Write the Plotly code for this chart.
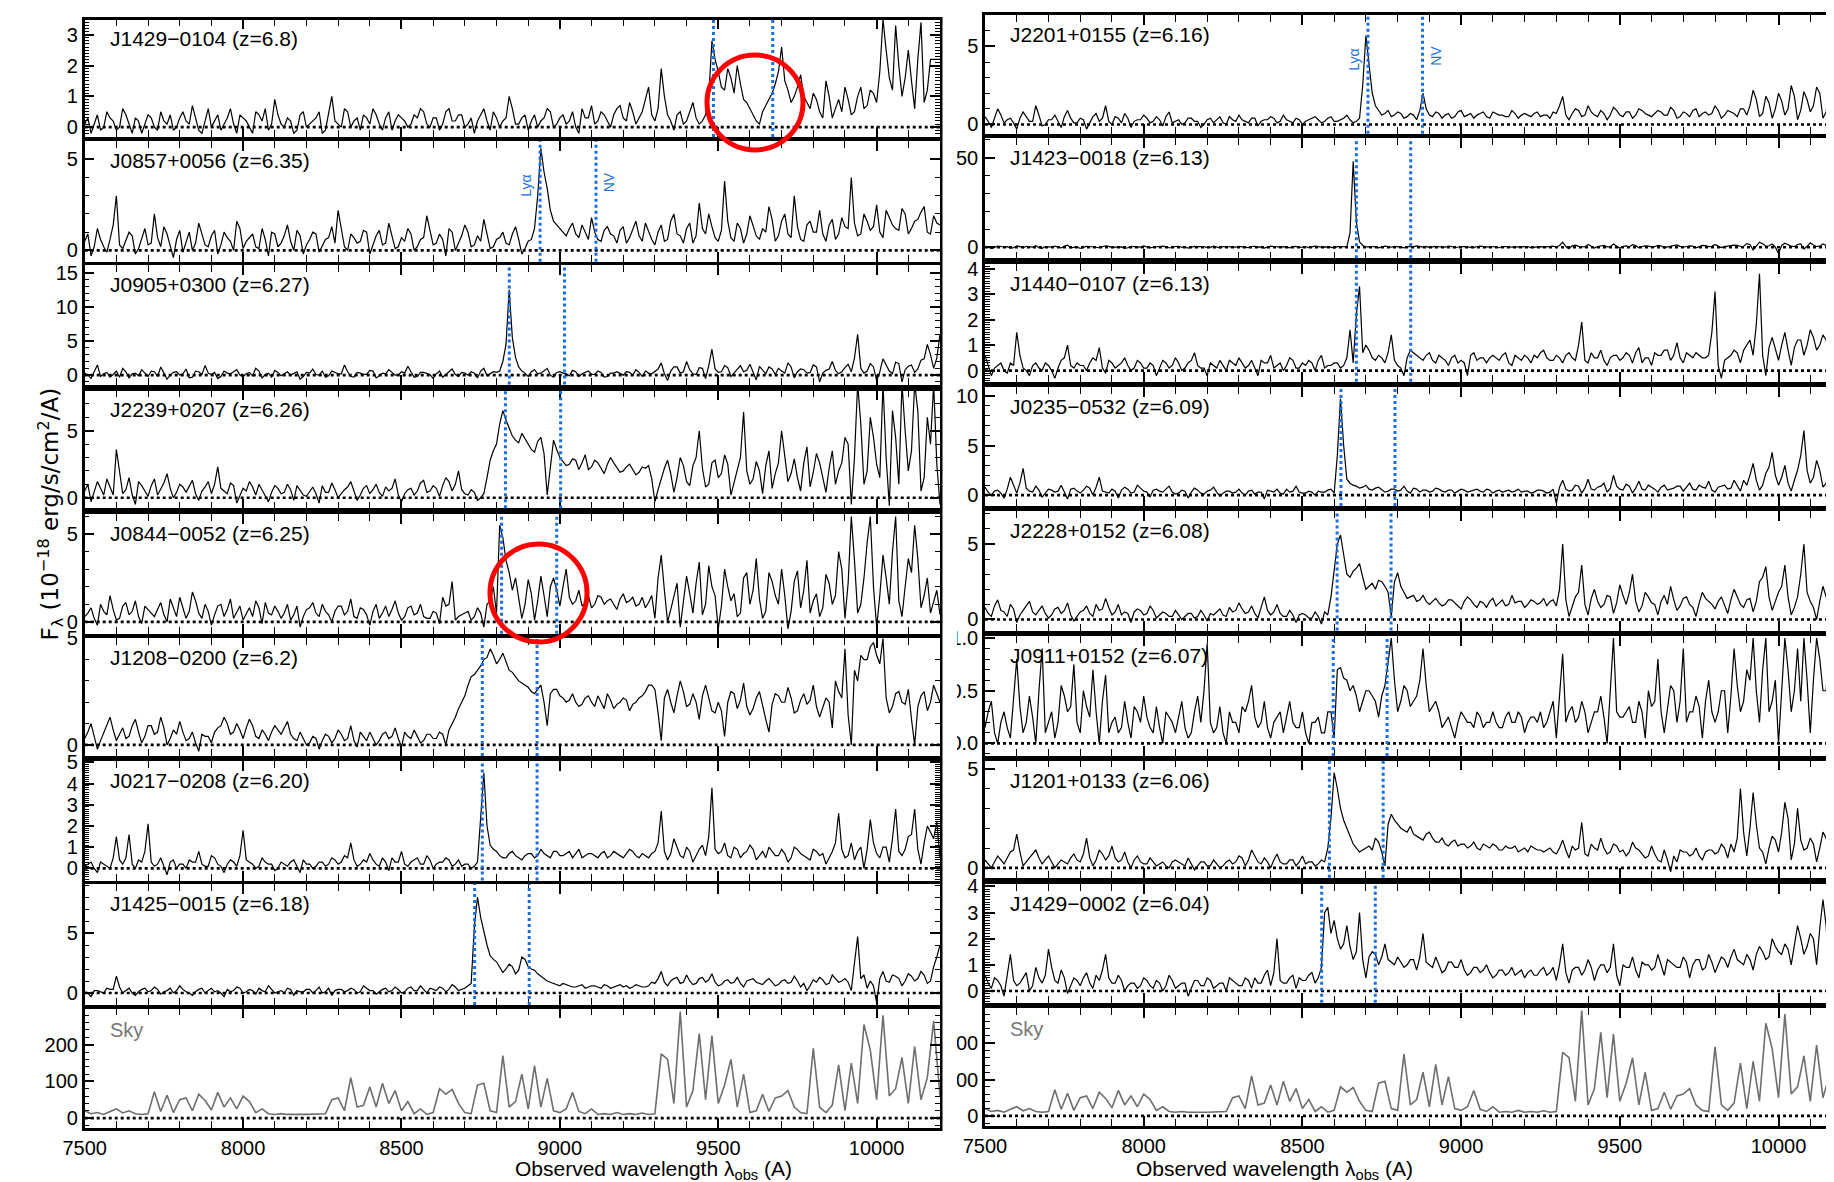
import plotly.graph_objects as go

W, H = 1834, 1182
FONT = "Liberation Sans, Arial, sans-serif"

# sampling grids (Angstrom): main samples at 7500,7520,...; mid samples at 7510,7530,...
wave = list(range(7500, 10201, 10))

names = ["J1429−0104 (z=6.8)", "J0857+0056 (z=6.35)", "J0905+0300 (z=6.27)", "J2239+0207 (z=6.26)",
         "J0844−0052 (z=6.25)", "J1208−0200 (z=6.2)", "J0217−0208 (z=6.20)", "J1425−0015 (z=6.18)",
         "J2201+0155 (z=6.16)", "J1423−0018 (z=6.13)", "J1440−0107 (z=6.13)", "J0235−0532 (z=6.09)",
         "J2228+0152 (z=6.08)", "J0911+0152 (z=6.07)", "J1201+0133 (z=6.06)", "J1429−0002 (z=6.04)"]
redshifts = [6.8, 6.35, 6.27, 6.26, 6.25, 6.2, 6.20, 6.18,
             6.16, 6.13, 6.13, 6.09, 6.08, 6.07, 6.06, 6.04]

# ---- flux values at 7500, 7520, ... 10200 A ----
f_J1429m0104 = [0.1,-0.2,0.4,0.0,0.3,-0.1, 0.6,0.1,0.3,-0.2,0.4, 0.0,0.5,0.1,-0.1,0.3, 0.2,0.7,-0.1,0.2,0.0,
    0.4,0.1,0.6,-0.2,0.3, 0.0,0.5,0.2,-0.1,0.9, 0.1,0.3,-0.2,0.4,0.0, 0.2,0.5,-0.1,1.0,0.1,
    0.6,0.0,0.3,0.4,0.1, 0.4,-0.1,0.5,0.2,0.3, 0.0,0.4,0.6,0.1,0.3, -0.1,0.5,0.2,0.4,0.0,
    0.3,0.2,0.6,-0.1,0.3, 0.2,1.0,0.1,0.3,-0.1, 0.4,0.2,0.6,0.0,0.3, 0.1,0.5,-0.2,0.3,0.7,
    0.2,0.4,0.0,0.6,0.3, 0.8,0.1,0.5,1.3,0.2, 1.9,0.4,-0.1,0.5,0.2, 0.8,0.1,0.4,2.8,1.8,
    1.2,1.6,2.0,0.9,0.6, 0.2,0.5,0.9,1.4,2.6, 1.2,1.0,1.7,0.8,1.1, 0.5,1.5,0.3,0.9,1.3,
    0.4,1.0,0.6,1.2,0.8, 3.5,1.6,3.3,1.0,2.5, 0.6,3.4,1.2,2.2,2.2]
m_J1429m0104 = [0.3,0.1,-0.1,0.5,0.2, 0.0,0.4,-0.2,0.2,0.1, 0.3,-0.1,0.2,0.4,0.0, 0.5,0.1,0.3,-0.2,0.6,
    0.2,-0.1,0.3,0.1,0.4, 0.2,-0.2,0.4,0.6,0.1, 0.4,0.0,0.2,-0.1,0.5, 0.1,0.3,-0.2,0.4,0.2,
    0.0,0.5,0.2,-0.1,0.3, 0.6,0.1,0.3,-0.1,0.4, 0.2,0.1,0.3,0.5,0.0, 0.3,0.1,0.6,0.2,0.4,
    0.1,-0.2,0.4,0.2,0.5, 0.0,0.3,0.6,0.1,0.4, 0.2,0.0,0.3,0.5,0.1, 0.4,0.2,0.0,0.6,0.3,
    0.1,0.5,0.2,0.4,0.7, 0.2,0.5,0.3,0.9,0.4, 0.6,1.0,0.2,0.4,0.1, 0.5,0.3,0.2,1.0,2.2,
    1.3,1.9,1.1,1.4,0.8, 0.4,0.1,0.7,1.1,1.8, 1.5,0.8,1.3,1.0,0.6, 0.9,0.3,1.0,0.6,0.5,
    0.9,0.5,1.3,0.7,1.1, 1.8,2.5,1.2,2.0,1.6, 1.5,2.2,0.8,2.2,2.2]

f_J0857p0056 = [0.5,-0.3,1.2,0.2,0.6,3.0, 0.1,1.0,-0.2,0.7,0.3, 2.0,0.2,0.9,-0.4,1.1, 0.4,0.0,1.5,0.3,0.8,
    -0.2,1.0,0.5,1.6,0.1, 0.7,0.2,1.2,-0.3,0.9, 0.4,1.4,0.0,0.8,0.3, 1.0,-0.1,0.6,1.3,2.2,
    0.2,0.9,0.4,1.1,-0.2, 0.8,0.3,1.5,0.1,0.7, 1.2,0.0,0.6,1.9,0.3, 0.9,-0.3,1.0,0.4,1.4,
    0.2,0.8,1.7,0.1,0.6, 1.0,0.3,1.3,-0.2,0.5, 1.2,5.6,3.4,1.6,1.2, 0.8,1.5,0.7,1.0,1.8,
    0.6,1.1,0.9,0.4,1.3, 0.7,1.6,0.5,1.0,0.3, 1.4,0.6,2.0,0.8,1.2, 0.4,2.6,0.9,1.3,0.5,
    3.8,0.7,1.5,0.4,1.9, 0.8,1.2,2.4,0.5,1.6, 0.9,3.0,0.6,1.4,1.0, 2.2,0.5,1.7,0.9,1.3,
    4.0,0.8,2.0,1.1,2.5, 0.7,1.8,1.2,2.3,0.9, 1.6,2.1,1.0,1.9,1.4]
m_J0857p0056 = [0.9,0.2,0.6,-0.1,1.4, 0.3,0.5,0.8,0.1,1.2, 0.4,0.7,1.3,0.2,0.6, -0.1,1.0,0.4,0.9,0.2,
    1.1,0.3,0.7,0.0,1.2, 0.5,0.9,0.1,0.6,1.0, 0.2,0.8,0.5,1.1,-0.2, 0.6,0.9,0.3,0.7,0.4,
    1.2,0.0,0.7,0.5,1.0, 0.3,1.1,0.4,0.8,0.2, 0.5,0.9,0.2,0.7,1.1, 0.4,0.6,1.2,0.0,0.8,
    1.0,0.3,0.5,0.9,0.2, 0.7,0.4,0.9,0.6,0.1, 0.6,3.0,4.3,2.2,1.4, 1.0,1.2,0.9,1.4,0.6,
    1.0,0.5,1.3,0.8,1.1, 0.4,1.2,0.8,1.5,0.6, 1.0,0.5,1.6,0.9,0.4, 1.5,0.8,1.2,2.0,0.7,
    1.1,1.6,0.5,1.2,0.9, 1.4,0.6,1.0,1.7,0.8, 2.0,0.7,1.3,0.5,1.6, 1.0,0.9,1.4,0.6,1.8,
    1.2,1.5,0.9,1.6,1.3, 1.0,2.2,1.4,1.1,2.0, 1.2,1.7,2.4,0.9,1.5]

f_J0905p0300 = [0.3,-0.5,1.5,0.2,-0.3,0.6, 1.0,-0.4,0.3,0.8,-0.2, 0.5,1.2,-0.6,0.4,0.0, 0.9,-0.3,0.5,1.4,0.1,
    -0.5,0.6,0.2,0.8,-0.2, 0.4,1.0,-0.4,0.3,0.7, -0.1,0.5,0.2,-0.6,0.4, 0.9,0.0,-0.3,0.6,0.2,
    1.5,-0.2,0.4,0.1,0.7, -0.4,0.3,0.8,0.0,0.5, 1.3,-0.3,0.4,0.2,-0.5, 0.6,0.1,0.9,-0.2,0.3,
    0.5,-0.4,1.0,0.2,0.4, 2.0,12.5,2.6,0.6,-0.2, 0.8,0.3,1.0,-0.3,0.5, 0.2,0.7,-0.2,0.4,0.1,
    0.6,-0.3,0.3,0.5,0.0, 0.4,0.8,-0.2,0.3,0.5, 1.8,-0.8,1.2,0.3,2.0, 0.2,1.1,-0.5,3.8,0.4,
    1.4,-0.2,0.9,0.5,1.6, -0.7,0.8,1.2,0.1,0.6, 1.8,-0.4,0.9,0.3,1.5, -1.0,0.7,2.0,0.2,1.1,
    0.5,6.0,0.3,1.7,-0.8, 2.4,0.6,1.9,-1.0,1.3, 0.4,2.2,4.5,1.0,6.0]
m_J0905p0300 = [0.0,0.6,-0.2,0.4,0.1, -0.3,0.5,0.2,-0.1,0.3, 0.6,-0.2,0.3,0.0,0.5, 0.2,-0.4,0.6,0.1,0.3,
    0.4,-0.2,0.3,0.5,0.0, 0.2,-0.1,0.6,0.1,-0.3, 0.4,0.2,0.0,0.5,-0.2, 0.3,0.1,0.6,-0.1,0.4,
    0.2,0.5,-0.3,0.3,0.1, 0.6,-0.1,0.2,0.4,0.0, 0.3,0.5,-0.2,0.4,0.1, 0.2,-0.3,0.5,0.1,0.4,
    0.0,0.3,0.6,-0.1,0.5, 0.6,4.5,5.5,1.2,0.3, 0.5,0.2,0.7,0.0,0.4, 0.3,-0.1,0.5,0.2,0.6,
    0.1,0.4,-0.2,0.3,0.2, 0.5,0.0,0.4,0.6,0.2, 0.9,0.2,0.6,1.2,0.5, 0.8,0.1,1.0,1.4,0.9,
    0.5,1.1,0.3,1.4,0.7, 0.4,1.3,0.2,0.9,1.0, 0.3,1.2,0.5,0.8,0.4, 1.2,0.3,0.9,0.7,0.5,
    1.6,2.5,1.0,0.6,1.2, 0.5,1.4,0.2,1.7,0.8, 1.5,0.9,2.4,3.0,2.5]

f_J2239p0207 = [0.5,-0.3,1.2,0.2,0.8,3.6, 0.3,1.5,-0.5,0.9,0.1, 1.4,0.6,1.8,0.0,1.0, 0.4,1.3,-0.2,0.8,0.3,
    2.3,0.5,1.1,-0.4,0.7, 1.2,0.2,0.6,-0.3,0.9, 0.3,1.0,-0.2,0.5,0.1, 0.8,-0.4,0.4,1.1,0.0,
    0.6,1.2,-0.2,0.7,0.3, 1.0,0.1,0.5,1.4,-0.3, 0.6,0.2,1.1,0.4,0.9, 0.1,1.5,0.5,2.0,0.3,
    0.6,-0.2,0.3,2.8,4.0, 6.5,5.2,4.3,4.8,3.9, 3.4,4.5,0.2,4.3,3.0, 2.4,2.9,2.1,3.2,2.3,
    2.6,1.8,3.0,2.2,2.0, 2.5,1.7,2.3,2.4,-0.3, 1.5,2.8,0.4,3.0,1.2, 2.4,5.0,0.8,2.6,1.5,
    3.2,0.2,2.0,6.4,1.0, 2.7,0.3,3.5,1.8,5.0, 1.2,2.9,0.5,3.8,1.9, 2.6,0.4,3.5,2.0,4.5,
    -0.5,8.5,1.0,6.0,2.5, 8.5,-0.6,4.5,8.5,2.0, 8.5,0.5,6.0,8.5,-0.5]
m_J2239p0207 = [1.0,0.4,0.7,1.4,0.2, 1.8,0.6,0.2,1.2,0.5, 0.9,0.2,1.1,0.7,0.4, 0.8,0.9,0.3,0.5,1.2,
    1.0,0.7,0.3,0.9,0.2, 0.5,0.8,1.0,0.1,0.4, 0.7,0.4,0.6,0.9,0.2, 0.5,0.3,0.9,0.4,0.6,
    0.3,0.8,0.5,0.2,0.9, 0.6,0.4,0.8,0.7,0.2, 0.3,0.7,0.5,1.3,0.5, 0.7,0.9,1.2,1.0,0.6,
    0.2,0.4,0.0,1.5,3.5, 5.5,5.8,4.6,4.1,4.4, 3.6,4.2,3.3,2.5,3.6, 2.7,2.5,2.8,2.6,2.1,
    2.8,2.2,2.5,2.6,1.9, 2.3,2.1,1.9,2.2,1.4, 0.6,2.2,1.8,1.5,2.4, 0.9,3.0,2.2,1.0,2.8,
    1.8,2.5,1.2,3.0,2.0, 1.4,2.0,2.4,0.7,2.6, 3.0,1.8,1.5,2.6,0.8, 3.3,1.5,2.2,1.0,2.6,
    4.0,3.0,5.5,2.0,4.5, 1.5,3.0,6.5,1.0,5.0, 3.5,6.5,1.5,4.0,2.5]

f_J0844m0052 = [0.3,0.8,-0.2,0.6,1.5,0.1, 0.9,0.4,1.2,-0.1,0.7, 0.3,1.1,0.0,0.8,1.4, 0.2,1.7,0.5,1.0,-0.2,
    0.9,0.3,1.3,0.6,0.1, 0.8,1.2,-0.1,0.5,0.9, 0.2,1.0,0.4,-0.3,0.7, 1.1,0.3,0.6,0.0,0.9,
    0.4,1.3,0.2,0.7,-0.2, 1.0,0.5,0.3,1.2,0.1, 0.8,0.4,1.0,0.2,0.6, -0.1,0.9,2.3,0.3,0.5,
    0.1,0.8,-0.3,1.2,0.5, 4.8,2.8,2.5,0.2,2.4, 0.1,2.6,0.3,2.5,0.9, 3.0,1.0,1.8,1.1,0.8,
    1.5,1.0,1.3,0.7,1.6, 1.2,0.9,1.4,1.1,0.2, 3.8,0.0,1.5,-0.3,2.6, 0.5,3.4,1.0,2.0,-0.4,
    3.0,1.2,0.3,2.5,1.0, 3.6,0.2,2.8,1.5,3.0, -0.4,2.3,0.8,3.5,1.2, 0.3,2.7,1.0,4.0,0.2,
    6.0,0.5,2.5,6.0,-0.3, 3.8,1.0,6.0,0.3,3.6, 5.5,0.8,2.5,1.2,0.4]
m_J0844m0052 = [0.5,0.2,1.0,0.4,0.7, 0.2,1.1,0.6,0.3,0.9, 0.5,0.7,0.4,1.3,0.3, 0.8,0.6,1.2,0.2,0.6,
    0.4,1.0,0.7,0.2,0.9, 0.5,0.3,0.8,1.1,0.4, 0.6,0.5,0.1,0.9,0.3, 0.8,0.5,1.0,0.4,0.6,
    0.9,0.6,0.3,0.8,0.4, 0.6,0.2,0.9,0.7,0.5, 0.3,0.9,0.5,0.3,0.2, 0.5,1.4,1.0,0.1,0.4,
    0.6,0.3,0.5,1.0,2.0, 5.5,3.5,1.8,1.4,1.0, 1.6,1.2,1.5,2.0,1.8, 2.0,1.4,1.2,0.9,1.5,
    1.0,1.4,1.2,1.0,1.3, 1.1,1.4,1.0,0.8,1.5, 2.5,1.8,0.7,2.2,1.0, 1.6,2.2,0.4,3.2,1.5,
    0.9,2.0,1.6,0.5,2.8, 1.8,1.3,0.6,2.3,1.0, 1.5,0.6,2.9,1.8,0.5, 1.6,0.8,2.2,1.5,3.0,
    2.2,3.5,1.0,4.5,2.0, 1.5,2.5,4.0,1.2,2.0, 2.8,3.6,1.5,0.5,1.8]

f_J1208m0200 = [0.3,1.0,-0.2,0.6,1.3,0.2, 0.8,0.4,1.2,0.1,0.9, 0.5,1.3,0.0,0.7,1.1, 0.2,0.6,-0.3,0.4,0.1,
    0.8,1.3,0.5,1.0,0.3, 1.2,0.4,0.7,0.2,0.9, 0.5,1.1,0.3,0.6,0.0, 0.4,-0.2,0.5,0.1,0.7,
    0.2,0.9,-0.1,0.4,0.6, 0.0,0.5,0.3,0.8,-0.1, 0.4,0.7,0.1,0.5,0.3, 0.6,0.0,1.0,1.7,2.3,
    3.2,3.5,4.0,4.5,3.8, 4.3,3.5,3.2,2.9,2.7, 2.4,2.8,0.9,2.6,2.3, 2.0,2.4,1.8,2.2,2.0,
    2.3,1.7,2.1,1.9,2.2, 1.6,2.0,2.3,2.8,2.6, 0.2,2.6,1.5,3.0,1.8, 2.4,1.2,2.8,1.6,2.0,
    0.4,2.5,1.7,2.9,1.4, 2.2,1.8,0.6,2.4,2.0, 2.7,1.5,2.1,1.9,2.8, 1.3,2.2,0.8,2.5,4.5,
    0.0,3.0,4.0,4.6,4.2, 5.0,1.5,2.4,2.0,2.6, 0.0,2.3,1.6,2.8,2.0]
m_J1208m0200 = [0.6,0.4,0.2,1.0,0.7, 0.5,0.3,0.9,0.6,0.4, 0.9,0.6,0.8,0.3,0.5, 0.6,0.3,0.1,0.5,0.4,
    0.6,0.9,1.0,0.6,0.7, 0.8,0.9,0.3,0.5,0.6, 0.7,0.8,0.5,0.2,0.3, 0.1,0.3,0.2,0.4,0.3,
    0.5,0.3,0.2,0.6,0.2, 0.3,0.2,0.6,0.4,0.3, 0.6,0.3,0.4,0.2,0.5, 0.3,0.5,0.7,1.3,2.0,
    2.8,3.3,3.7,4.1,4.2, 4.0,3.9,3.4,3.0,2.8, 2.5,2.6,2.0,2.4,2.6, 2.2,2.1,2.0,1.9,2.3,
    1.8,2.0,2.4,1.7,2.0, 2.1,1.9,2.2,2.5,2.8, 1.5,2.2,2.0,2.3,2.5, 1.9,2.0,2.3,2.2,1.5,
    1.6,2.0,2.4,2.1,1.8, 1.7,2.5,1.2,1.9,2.3, 2.0,2.2,1.6,2.4,2.1, 1.8,1.7,2.0,3.0,2.2,
    1.4,3.5,4.2,4.0,4.8, 3.8,2.2,1.8,2.5,1.9, 1.2,1.8,2.5,2.0,2.4]

f_J0217m0208 = [0.1,0.3,-0.2,0.2,0.0,1.5, 0.2,1.6,0.0,0.3,2.1, 0.1,0.5,-0.3,0.4,0.2, 0.0,0.3,0.8,0.1,0.6,
    0.2,-0.2,0.4,0.1,1.8, 0.3,0.0,0.5,0.2,-0.1, 0.3,0.1,0.4,-0.2,0.2, 0.0,0.3,0.1,0.5,0.2,
    0.6,1.2,0.1,0.4,0.7, 0.2,0.5,-0.1,0.3,0.8, 0.1,0.4,0.2,0.6,0.0, 0.3,0.5,0.1,0.4,0.2,
    0.0,0.3,4.5,1.1,0.8, 0.5,0.7,0.6,0.4,0.7, 0.5,0.9,0.6,0.8,0.6, 0.7,0.5,0.9,0.6,0.7,
    0.5,0.8,0.6,0.7,0.5, 0.9,0.6,0.7,0.5,0.8, 2.7,0.4,1.4,0.6,1.0, 0.3,0.9,0.6,3.8,0.7,
    1.2,0.5,0.9,0.7,1.1, 0.4,0.8,1.0,0.6,0.9, 0.3,1.0,0.7,0.5,0.9, 0.6,0.2,0.8,2.6,0.5,
    1.2,0.8,0.0,2.3,0.7, 1.0,0.3,2.8,0.6,1.5, 2.8,0.2,2.0,1.4,0.5]
m_J0217m0208 = [0.2,0.0,0.3,0.1,0.5, 0.4,0.5,0.2,0.4,0.8, 0.3,0.2,0.1,0.3,0.0, 0.2,0.4,0.3,0.2,0.1,
    0.5,0.1,0.2,0.3,0.6, 0.4,0.2,0.1,0.3,0.2, 0.0,0.2,0.3,0.1,0.4, 0.2,0.1,0.3,0.2,0.4,
    0.3,0.5,0.4,0.2,0.3, 0.4,0.1,0.3,0.5,0.3, 0.2,0.3,0.5,0.2,0.4, 0.2,0.3,0.4,0.2,0.1,
    0.2,0.1,2.5,2.0,0.9, 0.6,0.5,0.8,0.5,0.6, 0.7,0.6,0.7,0.5,0.8, 0.6,0.8,0.7,0.5,0.7,
    0.6,0.7,0.5,0.8,0.6, 0.7,0.8,0.5,0.6,0.7, 1.2,0.8,0.7,1.0,0.5, 0.8,0.6,1.1,1.5,0.9,
    0.8,0.6,1.0,0.5,0.8, 0.9,0.6,0.5,0.8,0.6, 0.7,0.5,0.9,0.6,0.4, 0.8,0.7,0.5,1.2,0.9,
    0.6,0.4,1.0,0.9,1.2, 0.5,1.0,1.4,0.8,0.9, 1.6,0.9,1.2,1.7,2.2]

f_J1425m0015 = [0.1,-0.3,0.2,0.0,0.3,1.4, 0.0,0.4,-0.2,0.3,0.1, 0.5,-0.1,0.2,0.0,0.6, 0.1,-0.2,0.3,0.0,0.4,
    0.2,-0.3,0.1,0.5,0.0, 0.3,-0.1,0.2,0.6,0.0, 0.2,0.4,-0.2,0.1,0.3, 0.0,0.5,0.1,-0.2,0.3,
    0.1,0.4,0.0,0.6,0.2, -0.1,0.3,0.1,0.5,0.0, 0.4,0.2,0.6,0.0,0.3, 0.5,0.1,0.7,0.2,0.4,
    0.8,8.0,5.0,3.1,2.6, 1.7,2.4,1.6,3.0,2.2, 1.9,1.4,1.0,0.8,0.6, 0.7,0.5,0.6,0.4,0.6,
    0.5,0.7,0.4,0.6,0.5, 0.4,0.7,0.5,0.6,0.8, 1.8,0.6,1.2,0.8,1.5, 0.7,1.2,0.9,1.6,0.6,
    1.0,0.8,1.3,0.5,1.1, 0.9,0.7,1.2,0.6,1.0, 0.8,1.4,0.5,0.2,1.1, 1.3,0.7,1.5,0.9,1.2,
    0.2,4.7,1.5,1.0,-0.8, 1.8,0.9,1.4,0.6,1.6, 1.0,1.8,0.8,2.2,4.0]
m_J1425m0015 = [0.0,0.2,0.1,0.4,0.3, 0.5,0.2,0.0,0.1,0.4, 0.2,0.3,0.1,0.4,0.2, 0.3,0.0,0.1,0.4,0.2,
    0.1,0.0,0.3,0.2,0.4, 0.1,0.2,0.4,0.1,0.3, 0.1,0.0,0.3,0.2,0.1, 0.3,0.2,0.0,0.4,0.2,
    0.3,0.2,0.3,0.1,0.4, 0.2,0.1,0.4,0.2,0.3, 0.1,0.5,0.2,0.3,0.4, 0.2,0.4,0.3,0.5,0.3,
    0.6,5.5,6.3,4.0,2.8, 2.2,2.0,2.2,1.9,2.8, 2.0,1.6,1.2,0.9,0.7, 0.8,0.6,0.5,0.7,0.5,
    0.6,0.4,0.6,0.5,0.7, 0.6,0.5,0.6,0.5,0.9, 1.2,0.9,1.0,1.3,0.9, 1.0,0.8,1.3,1.1,0.9,
    0.7,1.1,0.9,0.8,1.0, 1.2,0.8,1.0,0.9,0.7, 1.1,0.9,1.0,0.8,0.6, 0.9,1.1,0.8,1.2,1.0,
    0.9,2.5,1.2,0.4,0.6, 1.2,1.0,1.5,1.2,1.0, 1.4,1.2,1.5,1.0,3.0]

f_J2201p0155 = [0.5,-0.2,1.0,0.1,0.4,-0.3, 0.8,0.2,1.2,-0.1,0.3, 0.6,-0.2,0.9,0.1,0.4, -0.3,0.5,0.2,1.2,0.0,
    0.4,0.7,-0.2,0.3,0.6, 0.1,0.5,-0.1,0.8,0.2, 0.0,0.4,0.2,-0.2,0.3, 0.1,0.5,0.0,0.3,0.6,
    0.2,0.4,-0.1,0.3,0.5, 0.1,0.6,0.2,0.4,0.0, 0.3,0.5,0.1,0.4,0.2, 0.3,0.6,0.1,0.4,5.7,
    2.0,0.9,0.7,0.5,0.8, 0.4,0.7,0.3,2.0,0.6, 0.8,0.4,0.7,0.5,0.9, 0.6,0.4,0.7,0.5,0.8,
    0.6,0.5,0.9,0.4,0.7, 0.5,0.8,0.6,0.4,0.7, 1.8,0.3,1.0,0.5,1.2, 0.6,0.9,0.3,1.1,0.6,
    0.8,0.4,1.0,0.7,0.5, 0.9,0.6,1.1,0.4,0.8, 0.5,1.0,0.7,0.6,1.2, 0.4,0.9,0.7,1.0,0.6,
    2.2,0.5,1.8,0.4,2.0, 0.6,2.5,0.3,2.1,0.8, 2.4,0.4,2.6,0.9,3.2]
m_J2201p0155 = [0.2,0.4,0.6,0.3,0.1, 0.4,0.5,0.2,0.6,0.0, 0.3,0.2,0.5,0.4,0.1, 0.3,0.1,0.7,0.4,0.2,
    0.5,0.1,0.4,0.2,0.3, 0.4,0.2,0.3,0.5,0.1, 0.3,0.1,0.4,0.2,0.0, 0.4,0.3,0.1,0.5,0.2,
    0.3,0.1,0.4,0.2,0.3, 0.4,0.2,0.3,0.1,0.3, 0.2,0.4,0.3,0.2,0.5, 0.2,0.4,0.3,0.2,2.5,
    4.0,1.2,0.6,0.9,0.6, 0.7,0.5,0.6,0.9,1.0, 0.5,0.7,0.6,0.4,0.8, 0.5,0.7,0.6,0.8,0.4,
    0.7,0.6,0.5,0.7,0.6, 0.6,0.7,0.5,0.6,0.8, 1.2,0.6,0.7,0.9,0.6, 0.8,0.5,0.7,0.6,0.9,
    0.5,0.8,0.6,0.9,0.6, 0.7,0.8,0.6,0.9,0.5, 0.7,0.9,0.5,0.8,0.7, 0.9,0.6,0.8,0.5,1.0,
    1.2,1.6,0.7,1.4,1.0, 1.5,1.0,1.8,0.9,1.6, 1.2,2.0,0.8,2.2,1.6]

f_J1423m0018 = [0.5,-0.8,0.6,0.0,-0.5,0.7, -0.3,0.4,0.9,-0.6,0.2, 0.6,-0.4,1.2,0.0,-0.7, 0.5,0.1,-0.3,0.8,-0.2,
    0.3,-0.6,0.5,0.0,0.7, -0.4,0.2,0.6,-0.3,0.4, 0.0,-0.5,0.5,0.2,-0.2, 0.6,-0.4,0.3,0.0,0.5,
    -0.3,0.4,0.1,-0.5,0.6, 0.0,0.3,-0.4,0.5,0.1, -0.2,0.6,0.0,0.3,-0.5, 0.4,0.2,48.0,3.0,0.2,
    0.5,-0.3,0.6,0.0,0.4, -0.4,0.3,0.7,0.1,-0.2, 0.5,0.0,0.6,-0.3,0.4, 0.2,-0.2,0.6,0.1,0.4,
    -0.3,0.5,0.0,0.3,0.6, -0.2,0.4,0.1,0.5,0.0, 2.8,-0.8,1.2,0.3,1.5, -0.5,0.9,0.2,1.8,-0.6,
    0.7,1.4,-0.3,0.8,0.2, 1.1,-0.5,0.6,1.3,0.0, 0.8,-0.4,1.0,0.3,1.5, -0.2,0.7,1.2,0.4,2.0,
    -1.5,2.8,0.5,1.8,-3.5, 2.2,0.6,1.5,-1.0,2.5, 0.4,1.8,-0.6,2.3,1.0]
m_J1423m0018 = [0.2,-0.3,0.4,0.3,-0.2, 0.3,0.5,0.1,-0.2,0.4, 0.0,0.3,0.6,-0.3,0.2, 0.1,0.4,-0.2,0.3,0.5,
    0.0,0.2,-0.3,0.4,0.1, 0.3,0.0,0.4,0.2,-0.2, 0.5,0.1,0.0,0.3,0.4, -0.1,0.2,0.4,0.1,0.0,
    0.3,-0.2,0.5,0.2,0.1, 0.4,0.0,0.2,0.3,-0.1, 0.4,0.1,0.3,0.2,0.0, 0.3,0.5,8.0,14.0,1.0,
    0.2,0.4,0.0,0.3,0.5, 0.1,0.4,0.2,0.3,0.5, 0.2,0.3,0.1,0.4,0.2, 0.3,0.1,0.4,0.3,0.0,
    0.2,0.4,0.3,0.1,0.2, 0.4,0.1,0.3,0.2,0.6, 1.0,0.4,0.8,0.5,0.2, 0.6,0.4,1.0,0.3,0.7,
    0.5,0.2,0.9,0.4,0.6, 0.3,0.8,0.2,0.7,0.5, 0.4,0.6,0.3,0.9,0.5, 0.6,0.3,0.8,1.0,0.4,
    1.5,0.6,2.0,0.8,0.0, 1.0,1.4,0.3,1.8,0.5, 1.2,0.6,1.0,1.5,0.8]

f_J1440m0107 = [0.6,-0.2,0.2,0.0,0.3,1.5, 0.1,-0.2,0.3,0.0,0.2, -0.3,0.4,1.0,0.1,0.2, 0.0,0.5,0.9,-0.1,0.3,
    0.2,0.5,0.0,0.4,0.1, 0.3,-0.2,0.4,0.1,0.5, 0.0,0.3,0.7,0.1,-0.2, 0.2,0.4,0.0,0.3,0.5,
    0.1,0.4,-0.2,0.3,0.6, 0.2,0.0,0.5,0.1,0.3, 0.4,0.0,0.6,0.2,0.3, 0.1,0.5,0.3,3.3,1.0,
    0.5,0.6,0.3,1.4,0.2, -0.2,0.8,0.6,0.4,0.7, 0.3,0.5,0.2,0.6,0.4, -0.2,0.7,0.5,0.3,0.6,
    0.4,0.7,0.2,0.5,0.6, 0.3,0.5,0.8,0.4,0.6, 0.3,0.7,0.4,1.9,0.3, 0.5,0.8,0.2,0.6,0.4,
    0.7,0.3,0.9,0.5,0.2, 0.6,0.8,0.4,1.1,0.3, 0.6,0.7,0.5,0.6,3.1, -0.3,0.5,0.8,0.3,1.0,
    0.6,3.8,-0.2,1.3,0.4, 1.5,0.2,1.2,0.6,1.6, 0.8,1.4,0.5,1.5,2.0]
m_J1440m0107 = [0.2,0.1,0.3,-0.1,0.2, 0.6,0.0,0.2,0.1,0.3, 0.0,0.1,0.5,0.2,0.3, 0.2,0.3,0.4,0.1,0.4,
    0.1,0.3,0.2,0.1,0.3, 0.1,0.2,0.1,0.3,0.2, 0.3,0.1,0.4,0.2,0.1, 0.3,0.1,0.2,0.4,0.2,
    0.3,0.2,0.1,0.4,0.3, 0.1,0.3,0.2,0.4,0.1, 0.2,0.3,0.4,0.1,0.2, 0.3,0.2,1.6,2.2,0.7,
    0.8,0.4,0.5,0.7,0.4, 0.1,0.5,0.7,0.5,0.6, 0.4,0.6,0.4,0.5,0.3, 0.3,0.6,0.4,0.5,0.5,
    0.5,0.6,0.3,0.6,0.4, 0.5,0.6,0.7,0.5,0.4, 0.5,0.6,0.5,1.0,0.4, 0.7,0.5,0.4,0.5,0.6,
    0.5,0.6,0.7,0.3,0.5, 0.7,0.6,0.8,0.6,0.5, 0.7,0.5,0.6,0.5,1.5, 0.2,0.4,0.6,0.7,0.8,
    1.2,1.8,0.6,0.9,0.8, 1.0,0.8,0.9,1.2,1.0, 1.3,1.0,1.2,1.7,1.9]

f_J0235m0532 = [0.8,0.0,0.5,-0.3,1.8,0.2, 2.7,0.4,0.9,-0.2,0.6, 0.3,1.0,-0.4,0.7,0.2, 0.9,0.0,1.8,0.3,0.6,
    -0.3,0.8,0.2,1.0,0.4, -0.2,0.6,0.3,0.9,0.1, 0.5,-0.3,0.7,0.2,0.4, 0.8,-0.1,0.4,0.2,0.6,
    0.0,0.5,0.3,-0.4,0.4, 0.6,0.1,0.3,0.9,0.2, 0.4,0.0,0.3,0.5,0.2, 9.7,1.6,1.0,0.7,1.0,
    0.5,0.8,0.3,0.6,0.4, 0.9,0.2,0.6,0.5,0.3, 0.7,0.4,0.5,0.2,0.6, 0.3,0.5,0.4,0.6,0.2,
    0.5,0.4,0.3,0.6,0.4, 0.2,0.5,0.4,0.3,-0.8, 1.5,0.4,1.0,0.2,1.6, 0.5,0.9,0.3,2.0,0.6,
    1.1,0.2,1.4,0.5,0.8, 0.3,1.0,0.6,0.9,0.4, 1.2,0.5,0.8,1.4,0.3, 0.9,0.6,1.5,0.4,1.0,
    3.2,0.5,2.2,4.3,1.0, 3.0,0.4,2.5,6.5,1.2, 3.5,0.8,2.4,1.0,2.0]
m_J0235m0532 = [0.3,0.4,0.2,0.6,0.9, 1.2,0.7,0.3,0.5,0.2, 0.5,0.4,0.3,0.6,0.4, 0.5,0.7,0.8,0.4,0.2,
    0.4,0.5,0.6,0.3,0.7, 0.3,0.5,0.4,0.6,0.3, 0.2,0.4,0.3,0.5,0.1, 0.5,0.3,0.2,0.4,0.3,
    0.2,0.4,0.1,0.3,0.5, 0.3,0.2,0.6,0.4,0.3, 0.2,0.3,0.4,0.3,0.6, 4.0,5.0,1.2,0.9,0.8,
    0.6,0.7,0.5,0.4,0.6, 0.5,0.4,0.7,0.3,0.5, 0.4,0.6,0.3,0.5,0.4, 0.5,0.4,0.6,0.3,0.5,
    0.4,0.3,0.5,0.4,0.3, 0.4,0.3,0.5,0.2,0.6, 0.8,0.6,0.5,0.9,0.7, 0.6,0.8,1.2,0.7,0.9,
    0.5,0.9,0.7,0.6,1.0, 0.6,0.8,0.5,0.7,0.9, 0.8,0.6,1.0,0.7,0.5, 0.8,1.0,0.7,0.9,1.5,
    2.0,1.5,1.0,2.8,2.0, 1.8,1.2,1.5,4.0,2.5, 1.8,2.5,1.2,1.6,1.4]

f_J2228p0152 = [0.8,0.2,1.3,0.5,1.0,-0.2, 0.6,1.2,0.3,0.9,0.1, 0.7,0.4,1.1,-0.1,0.5, 0.9,0.2,0.6,1.4,0.3,
    1.0,0.5,-0.2,0.7,0.3, 0.9,0.1,0.5,0.2,0.6, 0.0,0.4,0.1,0.6,-0.1, 0.3,0.7,0.2,0.5,1.1,
    0.4,0.9,0.1,1.5,0.3, 1.0,0.2,0.6,-0.2,0.4, 0.1,0.5,-0.3,0.3,3.4, 5.6,3.0,3.2,3.7,2.0,
    2.4,2.6,2.2,0.2,3.1, 1.8,1.5,1.2,1.6,1.0, 1.4,0.9,1.3,1.1,0.7, 1.5,1.0,1.2,0.8,1.4,
    1.1,0.9,1.6,1.2,0.8, 1.3,1.0,1.4,1.2,0.9, 5.0,0.2,1.5,3.6,0.3, 2.0,0.8,1.6,0.4,2.3,
    1.0,3.0,0.5,1.8,1.1, 0.3,1.6,2.2,0.6,1.4, 1.0,0.2,1.8,1.2,0.7, 1.5,0.4,2.0,1.0,1.3,
    0.5,2.5,3.5,0.6,1.8, 3.6,0.3,1.5,5.0,1.2, 0.0,2.2,0.6,1.4,0.4]
m_J2228p0152 = [0.4,0.9,0.6,0.2,0.7, 0.3,0.9,0.5,0.6,0.4, 0.3,0.8,0.6,0.3,0.2, 0.6,0.4,1.0,0.7,0.8,
    0.5,0.3,0.4,0.5,0.6, 0.4,0.6,0.3,0.4,0.2, 0.3,0.2,0.4,0.2,0.3, 0.4,0.5,0.3,0.8,0.6,
    0.7,0.5,0.4,0.8,0.6, 0.5,0.4,0.2,0.3,0.3, 0.3,0.1,0.2,0.5,1.5, 5.0,4.2,2.8,3.4,2.8,
    2.2,2.0,2.5,1.8,2.5, 2.2,1.4,1.6,1.3,1.2, 1.2,1.1,1.0,1.3,0.9, 1.2,1.3,0.8,1.1,1.2,
    0.9,1.3,1.0,1.1,1.2, 1.0,1.2,1.1,0.9,1.3, 2.0,1.3,0.8,1.8,1.0, 1.4,1.2,1.0,1.5,1.1,
    1.6,1.8,1.2,0.9,1.5, 1.0,1.2,1.0,1.3,0.9, 1.5,0.8,1.1,1.4,1.0, 1.2,1.0,1.3,1.5,0.8,
    1.4,1.2,2.8,1.5,1.2, 2.2,1.5,0.8,3.0,1.8, 0.8,1.2,1.5,0.9,0.7]

f_J0911p0152 = [0.15,0.4,0.0,0.3,0.05,0.8, 0.1,0.45,0.0,0.9,0.2, 0.05,0.55,0.3,0.75,0.1, 0.35,0.7,0.0,0.65,0.2,
    0.1,0.4,0.05,0.3,0.45, 0.15,0.35,0.0,0.25,0.1, 0.4,0.05,0.3,0.2,0.95, 0.1,0.35,0.0,0.2,0.1,
    0.3,0.55,0.15,0.4,0.05, 0.25,0.1,0.4,0.15,0.3, 0.0,0.2,0.1,0.3,0.05, 0.72,0.6,0.55,0.3,0.5,
    0.45,0.25,0.55,1.0,0.3, 0.55,0.35,0.45,0.9,0.3, 0.4,0.15,0.25,0.05,0.3, 0.2,0.15,0.25,0.2,0.3,
    0.15,0.25,0.2,0.3,0.1, 0.25,0.2,0.15,0.3,0.05, 0.85,0.3,0.2,0.4,0.1, 0.3,0.45,0.0,1.0,0.25,
    0.3,0.2,0.4,0.05,0.35, 0.8,0.1,0.55,0.2,0.9, 0.3,0.45,0.05,0.6,0.2, 0.5,0.1,0.9,0.3,0.7,
    1.0,0.2,1.0,0.4,0.0, 1.0,0.3,0.9,1.0,0.1, 1.0,0.5,1.0,0.2,1.0]
m_J0911p0152 = [0.3,0.1,0.2,0.15,0.4, 0.35,0.2,0.25,0.5,0.1, 0.3,0.2,0.45,0.35,0.2, 0.5,0.25,0.3,0.4,0.1,
    0.25,0.15,0.2,0.35,0.2, 0.25,0.1,0.15,0.3,0.2, 0.25,0.15,0.1,0.45,0.5, 0.2,0.15,0.1,0.3,0.2,
    0.35,0.4,0.25,0.2,0.15, 0.2,0.3,0.25,0.2,0.15, 0.1,0.2,0.25,0.1,0.3, 0.7,0.62,0.5,0.45,0.4,
    0.5,0.4,0.45,0.8,0.6, 0.4,0.5,0.4,0.6,0.55, 0.35,0.3,0.2,0.15,0.2, 0.25,0.2,0.3,0.15,0.2,
    0.2,0.15,0.3,0.2,0.25, 0.2,0.25,0.3,0.2,0.4, 0.5,0.2,0.35,0.25,0.3, 0.2,0.3,0.25,0.5,0.3,
    0.25,0.35,0.2,0.3,0.5, 0.4,0.3,0.35,0.5,0.4, 0.2,0.3,0.35,0.4,0.3, 0.3,0.5,0.45,0.55,0.4,
    0.6,0.5,0.7,0.3,0.6, 0.5,0.7,0.5,0.4,0.6, 0.6,0.8,0.5,0.7,0.6]

f_J1201p0133 = [0.4,0.0,0.6,0.2,0.8,1.7, 0.1,0.5,0.9,0.2,0.6, 0.0,0.4,0.2,0.7,0.3, 1.5,0.1,0.9,0.4,1.1,
    0.3,0.8,0.0,0.6,0.2, 0.5,0.1,0.3,0.0,0.4, 0.2,0.5,-0.1,0.3,0.1, 0.4,0.0,0.3,0.2,0.6,
    0.1,0.9,0.3,0.5,0.0, 0.7,0.2,0.4,0.1,0.6, 0.3,0.1,0.4,1.0,4.8, 3.0,2.0,1.2,0.8,1.0,
    0.9,1.3,0.1,2.7,2.2, 1.9,2.1,1.6,1.4,1.8, 1.3,1.5,1.1,1.4,1.2, 1.0,1.3,0.9,1.1,1.2,
    0.9,1.1,1.0,0.8,1.0, 1.1,0.9,0.8,1.0,0.7, 1.4,0.5,0.9,2.3,0.6, 1.0,1.5,0.7,1.2,0.8,
    0.6,1.3,0.9,0.5,1.1, 0.4,0.9,-0.2,0.3,0.8, 0.6,1.0,0.4,0.9,0.7, 1.2,0.5,0.8,4.0,0.6,
    3.8,1.0,0.2,1.6,0.8, 3.3,0.4,3.0,0.9,1.5, 0.3,1.8,0.7,1.2,2.0]
m_J1201p0133 = [0.2,0.3,0.4,0.5,0.9, 0.8,0.3,0.7,0.5,0.4, 0.3,0.2,0.3,0.5,0.4, 0.7,0.5,0.4,0.7,0.6,
    0.5,0.4,0.3,0.4,0.3, 0.2,0.3,0.2,0.1,0.3, 0.3,0.1,0.2,0.1,0.3, 0.1,0.2,0.1,0.4,0.3,
    0.5,0.4,0.6,0.2,0.3, 0.4,0.3,0.2,0.4,0.3, 0.2,0.3,0.2,0.3,2.5, 4.0,2.4,1.5,1.0,0.9,
    1.1,1.5,0.8,2.2,2.4, 2.0,1.8,1.7,1.5,1.7, 1.5,1.3,1.2,1.3,1.1, 1.2,1.1,1.0,1.2,1.0,
    1.1,0.9,1.0,1.1,0.9, 0.8,1.0,0.9,0.9,0.8, 1.0,0.9,1.1,1.0,0.7, 1.2,0.9,1.0,0.8,1.1,
    0.9,0.8,1.0,0.7,0.6, 0.7,0.3,0.4,0.6,0.9, 0.8,0.7,0.6,0.8,0.9, 0.8,1.0,1.2,1.5,1.8,
    2.0,2.2,0.8,1.0,1.4, 1.8,2.5,1.2,1.4,1.0, 1.2,1.0,1.5,1.3,1.6]

f_J1429m0002 = [0.6,0.1,0.4,-0.2,1.4,0.2, 0.5,0.0,0.9,0.3,1.6, 0.4,0.8,-0.1,0.5,0.2, 0.7,0.1,0.4,1.4,0.3,
    0.6,0.0,0.3,0.1,0.5, 0.2,0.4,0.0,0.6,0.1, 0.3,-0.2,0.4,0.2,0.5, 0.1,0.3,0.0,0.4,0.2,
    0.5,0.1,0.3,0.6,0.2, 2.0,0.3,0.5,0.1,0.4, 0.6,0.3,0.9,3.2,2.7, 1.6,2.5,1.2,3.0,0.5,
    1.5,1.0,1.8,1.1,1.3, 0.9,1.2,0.8,2.2,1.0, 1.3,0.7,1.1,0.9,1.2, 0.6,0.9,0.7,1.0,0.5,
    0.8,0.6,0.9,0.7,0.5, 0.8,0.6,0.9,0.7,0.4, 1.8,0.3,0.9,0.6,1.2, 0.4,1.0,0.7,1.8,0.2,
    0.9,1.3,0.5,1.0,0.8, 1.4,0.6,1.1,0.9,1.3, 0.5,1.2,0.8,1.4,0.7, 1.3,0.9,1.6,1.1,1.4,
    0.8,1.7,1.2,2.0,1.5, 1.8,1.0,2.5,1.4,2.2, 1.0,3.5,0.5,4.0,2.2]
m_J1429m0002 = [0.3,0.5,0.2,0.6,0.4, 0.3,0.7,0.2,0.5,0.6, 0.9,0.3,0.5,0.2,0.4, 0.5,0.3,0.6,0.8,0.5,
    0.3,0.4,0.2,0.3,0.2, 0.4,0.1,0.3,0.2,0.4, 0.2,0.3,0.1,0.4,0.2, 0.4,0.2,0.3,0.5,0.3,
    0.2,0.4,0.5,0.3,0.8, 0.7,0.4,0.3,0.6,0.5, 0.4,0.7,0.5,3.0,2.2, 2.0,1.8,1.7,1.5,1.2,
    1.3,1.4,1.3,1.2,1.0, 1.1,1.0,1.2,1.3,1.1, 0.9,1.0,0.8,1.1,0.9, 0.8,0.7,0.9,0.8,0.7,
    0.6,0.8,0.7,0.6,0.8, 0.7,0.6,0.8,0.6,0.9, 1.0,0.7,0.8,0.9,0.8, 0.9,0.8,1.0,0.9,0.6,
    1.0,0.9,0.8,1.1,1.0, 0.9,1.0,1.2,1.0,0.9, 1.1,1.0,1.2,0.9,1.1, 1.0,1.2,1.3,1.2,1.0,
    1.2,1.4,1.5,1.3,1.7, 1.4,1.6,1.8,2.0,1.7, 2.0,2.4,2.5,3.0,3.2]

# sky counts at 7500, 7520, ... 10200 A
sky = [20,12,15,10,18,25, 14,20,12,10,12, 72,18,62,15,50, 55,20,65,48,22, 70,30,55,25,60,
    45,15,25,12,10, 12,10,11,10,10, 11,10,12,50,55, 20,110,30,35,85, 30,95,40,75,20,
    45,12,25,10,15, 80,65,78,40,15, 12,90,95,20,15, 170,30,45,120,25, 142,30,108,20,15,
    25,70,18,12,25, 10,12,10,15,10, 12,10,14,10,12, 175,160,40,290,30, 75,230,50,225,40,
    90,160,30,120,15, 20,65,18,55,60, 75,30,15,12,190, 30,15,35,145,20, 150,40,255,185,50,
    280,60,80,165,40, 195,50,110,265,60]
sky_wave = list(range(7500, 10201, 20))

main_vals = [f_J1429m0104, f_J0857p0056, f_J0905p0300, f_J2239p0207,
             f_J0844m0052, f_J1208m0200, f_J0217m0208, f_J1425m0015,
             f_J2201p0155, f_J1423m0018, f_J1440m0107, f_J0235m0532,
             f_J2228p0152, f_J0911p0152, f_J1201p0133, f_J1429m0002]
mid_vals = [m_J1429m0104, m_J0857p0056, m_J0905p0300, m_J2239p0207,
            m_J0844m0052, m_J1208m0200, m_J0217m0208, m_J1425m0015,
            m_J2201p0155, m_J1423m0018, m_J1440m0107, m_J0235m0532,
            m_J2228p0152, m_J0911p0152, m_J1201p0133, m_J1429m0002]


def merge(a, b):
    out = []
    for i, v in enumerate(a):
        out.append(v)
        if i < len(b):
            out.append(b[i])
    return out


spectra = [merge(a, b) for a, b in zip(main_vals, mid_vals)]

# ---------------- layout geometry (pixels) ----------------
col_x = [(76.7, 932.0), (977.0, 1834.0)]
tops = [[11.6, 133, 257.3, 382.5, 506, 629.8, 753.3, 875.8, 1000.7],
        [7.3, 129.8, 256, 379, 503.3, 628, 752.7, 875.8, 1000]]
bots = [[129, 253.7, 376.5, 500.3, 625.8, 748, 872.5, 997, 1120],
        [125.8, 250.3, 373.8, 498, 622.5, 748, 869.8, 994.7, 1118]]
yranges = [[[-0.32, 3.49], [-0.62, 6.0], [-1.37, 16.1], [-0.79, 8.0], [-0.68, 6.14],
            [-0.52, 5.02], [-0.57, 5.05], [-1.0, 9.1], [-27, 298]],
           [[-0.6, 7.0], [-6.2, 61.2], [-0.44, 4.18], [-1.1, 10.9], [-0.73, 7.17],
            [-0.12, 1.02], [-0.5, 5.4], [-0.45, 4.1], [-28, 297]]]
ydt = [[1, 5, 5, 5, 5, 5, 1, 5, 100], [5, 50, 1, 5, 5, 0.5, 5, 1, 100]]
ymin = [[0.1, 1, 1, 1, 1, 1, 0.1, 1, 20], [1, 10, 0.1, 1, 1, 0.1, 1, 0.1, 20]]

BLUE = "rgb(25,110,225)"
fig = go.Figure()
shapes = []
annotations = []
layout = {}


def px_x(p):
    return p / W


def px_y(p):
    return 1 - p / H


for c in range(2):
    for r in range(9):
        k = c * 9 + r + 1
        xa = "xaxis" if k == 1 else f"xaxis{k}"
        ya = "yaxis" if k == 1 else f"yaxis{k}"
        xr = "x" if k == 1 else f"x{k}"
        yr = "y" if k == 1 else f"y{k}"
        is_sky = (r == 8)
        if is_sky:
            xv, yv = sky_wave[:len(sky)], sky
            color, lw = "#6e6e6e", 1.6
        else:
            yv = spectra[c * 8 + r]
            xv = wave[:len(yv)]
            color, lw = "black", 1.2
        fig.add_trace(go.Scatter(x=xv, y=yv, mode="lines",
                                 line=dict(color=color, width=lw),
                                 xaxis=xr, yaxis=yr, showlegend=False,
                                 hoverinfo="skip"))
        layout[xa] = dict(domain=[px_x(col_x[c][0]), px_x(col_x[c][1])],
                          range=[7500, 10200], anchor=yr,
                          showline=True, linewidth=2.5, linecolor="black",
                          mirror="ticks", ticks="inside", ticklen=10, tickwidth=1.6,
                          tickcolor="black", dtick=500, tick0=7500, tickformat="d",
                          minor=dict(ticks="inside", dtick=100, ticklen=7,
                                     tickwidth=1.4, tickcolor="black"),
                          showgrid=False, zeroline=False,
                          showticklabels=is_sky,
                          tickfont=dict(family=FONT, size=20, color="black"),
                          automargin=False)
        yd = dict(domain=[px_y(bots[c][r]), px_y(tops[c][r])],
                  range=yranges[c][r], anchor=xr,
                  showline=True, linewidth=2.5, linecolor="black",
                  mirror="ticks", ticks="inside", ticklen=10, tickwidth=1.6,
                  tickcolor="black", dtick=ydt[c][r], tick0=0,
                  minor=dict(ticks="inside", dtick=ymin[c][r], ticklen=5,
                             tickwidth=1.2, tickcolor="black"),
                  showgrid=False, zeroline=False,
                  tickfont=dict(family=FONT, size=20, color="black"),
                  automargin=False)
        if c == 1 and r == 5:
            yd["tickformat"] = ".1f"
        layout[ya] = yd

        # dotted zero level
        shapes.append(dict(type="line", xref=xr, yref=yr, x0=7500, x1=10200, y0=0, y1=0,
                           line=dict(color="black", width=2.6, dash="dot"), layer="above"))
        if is_sky:
            annotations.append(dict(text="Sky", xref=f"{xr} domain", yref=f"{yr} domain",
                                    x=0.027, y=0.93, xanchor="left", yanchor="top",
                                    showarrow=False,
                                    font=dict(family=FONT, size=20, color="#777777")))
        else:
            z = redshifts[c * 8 + r]
            for rest in (1216.0, 1240.0):
                lam = rest * (1 + z)
                shapes.append(dict(type="line", xref=xr, yref=f"{yr} domain",
                                   x0=lam, x1=lam, y0=0, y1=1,
                                   line=dict(color=BLUE, width=3, dash="dot"), layer="above"))
            annotations.append(dict(text=names[c * 8 + r], xref=f"{xr} domain",
                                    yref=f"{yr} domain", x=0.027, y=0.95,
                                    xanchor="left", yanchor="top", showarrow=False,
                                    font=dict(family=FONT, size=21, color="black")))

# Lya / NV labels
for (xr, z, ypx) in (("x2", 6.35, 165), ("x10", 6.16, 39)):
    annotations.append(dict(text="Lyα", xref=xr, yref="paper", x=1216 * (1 + z) - 45,
                            y=px_y(ypx), textangle=-90, showarrow=False,
                            font=dict(family=FONT, size=14, color=BLUE)))
    annotations.append(dict(text="NV", xref=xr, yref="paper", x=1240 * (1 + z) + 42,
                            y=px_y(ypx - 3), textangle=-90, showarrow=False,
                            font=dict(family=FONT, size=14, color=BLUE)))

# axis titles
annotations.append(dict(text="F<sub>λ</sub> (10<sup>−18</sup> erg/s/cm<sup>2</sup>/A)",
                        xref="paper", yref="paper", x=px_x(23), y=px_y(506),
                        textangle=-90, showarrow=False,
                        font=dict(family="DejaVu Sans, sans-serif", size=23, color="black")))
for cx in (505, 1407):
    annotations.append(dict(text="Observed wavelength λ<sub>obs</sub> (A)",
                            xref="paper", yref="paper", x=px_x(cx), y=px_y(1177),
                            yanchor="bottom", showarrow=False,
                            font=dict(family=FONT, size=21, color="black")))

# red highlight circles
for (x0, y0, x1, y1) in ((699, 47, 795, 142), (482, 536, 579, 634)):
    shapes.append(dict(type="circle", xref="paper", yref="paper",
                       x0=px_x(x0), x1=px_x(x1), y0=px_y(y1), y1=px_y(y0),
                       line=dict(color="red", width=5), layer="above"))

# the right-hand column's tick labels are clipped on their left side in the original figure
shapes.append(dict(type="rect", xref="paper", yref="paper",
                   x0=px_x(934.5), x1=px_x(949), y0=px_y(1125), y1=1,
                   line=dict(width=0), fillcolor="white", layer="above"))

fig.update_layout(width=W, height=H, template="none",
                  margin=dict(l=0, r=0, t=0, b=0, pad=0),
                  paper_bgcolor="white", plot_bgcolor="white",
                  shapes=shapes, annotations=annotations, showlegend=False,
                  **layout)
fig.write_html("out.html")
